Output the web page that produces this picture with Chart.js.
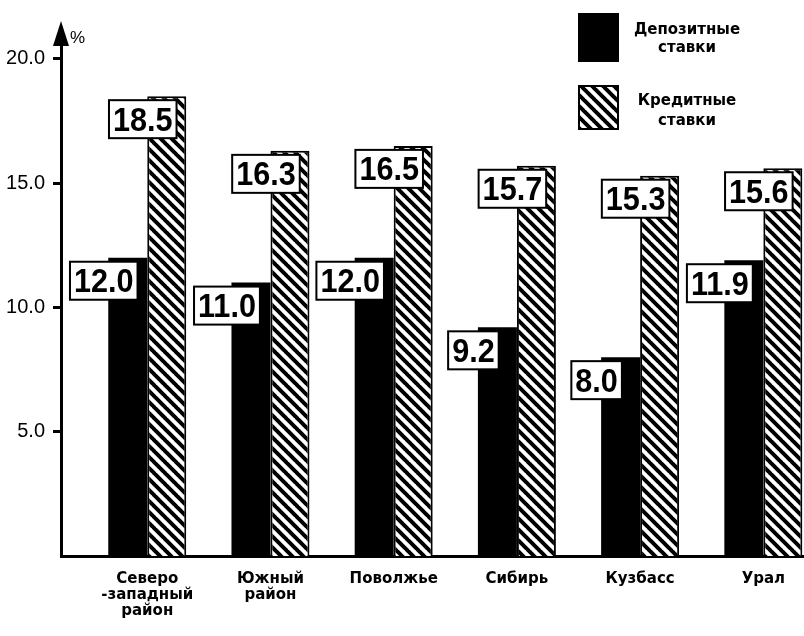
<!DOCTYPE html>
<html><head><meta charset="utf-8">
<script src="https://cdn.jsdelivr.net/npm/chart.js@4/dist/chart.umd.min.js"></script>
<style>html,body{margin:0;padding:0;background:#fff;overflow:hidden}canvas{display:block}</style>
</head><body>
<canvas id="c" width="804" height="636"></canvas>
<script>
const categories = [['Северо', '-западный', 'район'], ['Южный', 'район'], ['Поволжье'], ['Сибирь'], ['Кузбасс'], ['Урал']];
const depositRates = [12.0, 11.0, 12.0, 9.2, 8.0, 11.9];
const creditRates = [18.5, 16.3, 16.5, 15.7, 15.3, 15.6];
const seriesNames = [['Депозитные', 'ставки'], ['Кредитные', 'ставки']];
const yTickValues = [5, 10, 15, 20];
const yUnit = '%';

const canvas = document.getElementById('c');
const ctx = canvas.getContext('2d');

function makeHatch(mainCtx) {
  const s = 11;
  const t = document.createElement('canvas');
  t.width = s; t.height = s;
  const g = t.getContext('2d');
  g.fillStyle = '#fff'; g.fillRect(0, 0, s, s);
  g.strokeStyle = '#000'; g.lineWidth = 4;
  g.beginPath();
  for (const k of [-1, 0, 1]) { g.moveTo(k * s - 1, -1); g.lineTo(k * s + s + 1, s + 1); }
  g.stroke();
  return mainCtx.createPattern(t, 'repeat');
}
const hatch = makeHatch(ctx);

const decor = {
  id: 'decor',
  afterDatasetsDraw(chart) {
    const c = chart.ctx;
    const ca = chart.chartArea;
    // value labels
    chart.data.datasets.forEach((ds, di) => {
      const meta = chart.getDatasetMeta(di);
      meta.data.forEach((bar, i) => {
        const txt = ds.data[i].y.toFixed(1);
        c.save();
        c.font = 'bold 34px "Liberation Sans", Arial, sans-serif';
        const sx = 0.9;
        const tw = c.measureText(txt).width * sx;
        const bw = tw + 8, bh = 38;
        const cx = bar.x - 24, top = bar.y + 4;
        c.fillStyle = '#fff'; c.fillRect(cx - bw / 2, top, bw, bh);
        c.strokeStyle = '#000'; c.lineWidth = 2; c.strokeRect(cx - bw / 2, top, bw, bh);
        c.fillStyle = '#000'; c.textAlign = 'center'; c.textBaseline = 'middle';
        c.translate(cx, top + bh / 2 + 2); c.scale(sx, 1);
        c.fillText(txt, 0, 0);
        c.restore();
      });
    });
    // axis arrow and unit
    c.save();
    const ax = ca.left;
    c.fillStyle = '#000';
    c.beginPath();
    c.moveTo(ax, 21); c.lineTo(ax - 8, 46); c.lineTo(ax + 8, 46); c.closePath(); c.fill();
    c.font = '17px "Liberation Sans", Arial, sans-serif';
    c.textAlign = 'left'; c.textBaseline = 'middle';
    c.fillText(yUnit, ax + 9, 38);
    c.restore();
    // legend
    c.save();
    const boxes = [{ y: 13, h: 49 }, { y: 85, h: 45 }];
    const lineYs = [[30, 48], [101, 121]];
    chart.data.datasets.forEach((ds, di) => {
      const b = boxes[di];
      c.fillStyle = ds.backgroundColor;
      c.fillRect(578, b.y, 41, b.h);
      c.strokeStyle = '#000'; c.lineWidth = 2;
      c.strokeRect(579, b.y + 1, 39, b.h - 2);
      c.fillStyle = '#000';
      c.font = 'bold 15px "DejaVu Sans", sans-serif';
      c.textAlign = 'center'; c.textBaseline = 'middle';
      seriesNames[di].forEach((ln, li) => c.fillText(ln, 687, lineYs[di][li]));
    });
    c.restore();
  }
};

new Chart(ctx, {
  type: 'bar',
  data: {
    datasets: [
      { label: seriesNames[0].join(' '), data: depositRates.map((v, i) => ({ x: i, y: v })), backgroundColor: '#000', borderWidth: 0 },
      { label: seriesNames[1].join(' '), data: creditRates.map((v, i) => ({ x: i, y: v })), backgroundColor: hatch, borderColor: '#000', borderWidth: 2 }
    ]
  },
  options: {
    responsive: false,
    animation: false,
    devicePixelRatio: 1,
    layout: { padding: { top: 40, left: 0, right: 0, bottom: 0 } },
    plugins: { legend: { display: false }, tooltip: { enabled: false } },
    datasets: { bar: { categoryPercentage: 0.633, barPercentage: 1.0 } },
    scales: {
      x: {
        type: 'linear', min: -0.7, max: 5.33, offset: false,
        afterBuildTicks: s => { s.ticks = categories.map((_, i) => ({ value: i })); },
        afterFit: s => { s.height = 80; },
        grid: { display: true, offset: false, drawOnChartArea: false, drawTicks: false },
        border: { display: true, color: '#000', width: 3 },
        ticks: {
          autoSkip: false, maxRotation: 0, minRotation: 0, padding: 15, color: '#000',
          font: { family: '"DejaVu Sans", sans-serif', weight: 'bold', size: 15, lineHeight: '16px' },
          callback: v => categories[v]
        }
      },
      y: {
        min: 0, max: 20.76,
        afterBuildTicks: s => { s.ticks = yTickValues.map(v => ({ value: v })); },
        afterFit: s => { s.width = 61; },
        grid: { drawOnChartArea: false, drawTicks: true, tickLength: 8, tickWidth: 3, tickColor: '#000' },
        border: { display: true, color: '#000', width: 3 },
        ticks: {
          padding: 8, color: '#000',
          font: { family: '"Liberation Sans", Arial, sans-serif', size: 20 },
          callback: v => Number(v).toFixed(1)
        }
      }
    }
  },
  plugins: [decor]
});
</script>
</body></html>
